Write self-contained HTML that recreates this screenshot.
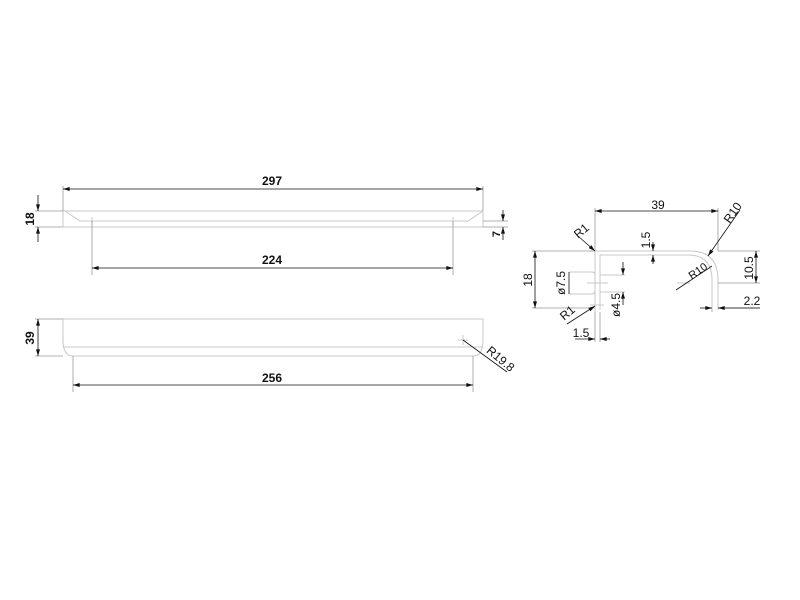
<!DOCTYPE html>
<html><head><style>html,body{margin:0;padding:0;background:#fff}svg{display:block}</style></head>
<body>
<svg width="800" height="600" viewBox="0 0 800 600" xmlns="http://www.w3.org/2000/svg" font-family="Liberation Sans, sans-serif">
<defs>
<marker id="a" viewBox="0 0 10 6" refX="10" refY="3" markerWidth="7" markerHeight="4" orient="auto-start-reverse" markerUnits="userSpaceOnUse"><path d="M0,0L10,3L0,6z" fill="#111"/></marker>
</defs>
<g fill="none" stroke="#c8c8c8" stroke-width="1">
<path d="M63,211H483M63,211V227M483,211V227M65,211L80,221H468L483,211M63,227H483"/>
<path d="M88,221H96M92,217V225M449,221H457M453,217V225"/>
<path d="M63,319H483V340Q483,356 473,356H73Q63,356 63,340Z"/>
<path d="M63,347H483"/>
<path d="M458,340H468M463,335V345"/>
<path d="M595,250V312M600,255V310M595,251H690Q718,251 718,280V283M600,255H688Q712,255 712,280V283"/>
<path d="M712,283V310M718,283V310"/>
<path d="M569,272H592Q595,272 595,276M569,294H592Q595,294 595,290M600,275H625M600,292H625M587,283H608"/>
<path d="M590,251H604M590,305H604M677,283H690"/>
</g>
<g stroke="#999" stroke-width="0.8" fill="none">
<path d="M63,186V211M483,186V211M35,211H63M35,227H63M483,221H508M483,227H508M92,221V275M453,221V275"/>
<path d="M35,319H63M35,356H63M73,356V392M473,356V392"/>
<path d="M595,208V250M718,208V251M532,251H595M532,308H595M718,251H760M718,283H760M712,310V312M718,308H760M595,312V342M600,312V342"/>
</g>
<g stroke="#111" stroke-width="0.8" fill="none">
<line x1="63" y1="189" x2="483" y2="189" marker-start="url(#a)" marker-end="url(#a)"/>
<line x1="92" y1="268" x2="453" y2="268" marker-start="url(#a)" marker-end="url(#a)"/>
<line x1="73" y1="385" x2="473" y2="385" marker-start="url(#a)" marker-end="url(#a)"/>
<line x1="38" y1="195" x2="38" y2="211" marker-end="url(#a)"/>
<line x1="38" y1="242" x2="38" y2="227" marker-end="url(#a)"/>
<line x1="38" y1="319" x2="38" y2="356" marker-start="url(#a)" marker-end="url(#a)"/>
<line x1="503" y1="210" x2="503" y2="221" marker-end="url(#a)"/>
<line x1="503" y1="240" x2="503" y2="227" marker-end="url(#a)"/>
<line x1="463" y1="340" x2="507" y2="372"/>
<line x1="595" y1="211" x2="718" y2="211" marker-start="url(#a)" marker-end="url(#a)"/>
<line x1="535" y1="251" x2="535" y2="308" marker-start="url(#a)" marker-end="url(#a)"/>
<line x1="569" y1="272" x2="569" y2="294"/>
<line x1="623" y1="262" x2="623" y2="275" marker-end="url(#a)"/>
<line x1="623" y1="305" x2="623" y2="292" marker-end="url(#a)"/>
<line x1="653" y1="242" x2="653" y2="251" marker-end="url(#a)"/>
<line x1="653" y1="264" x2="653" y2="255" marker-end="url(#a)"/>
<line x1="756" y1="251" x2="756" y2="283" marker-start="url(#a)" marker-end="url(#a)"/>
<line x1="700" y1="308" x2="712" y2="308" marker-end="url(#a)"/>
<line x1="760" y1="308" x2="718" y2="308" marker-end="url(#a)"/>
<line x1="575" y1="339" x2="595" y2="339" marker-end="url(#a)"/>
<line x1="610" y1="339" x2="600" y2="339" marker-end="url(#a)"/>
<line x1="740" y1="210" x2="708" y2="256" marker-end="url(#a)"/>
<line x1="676" y1="290" x2="712" y2="266"/>
<line x1="578" y1="236" x2="595" y2="251" marker-end="url(#a)"/>
<line x1="567" y1="324" x2="595" y2="306" marker-end="url(#a)"/>
</g>
<g fill="#111" font-size="12" font-weight="bold" text-anchor="middle">
<text x="272" y="185">297</text>
<text x="272" y="264">224</text>
<text x="272" y="382">256</text>
<text transform="translate(34,219) rotate(-90)">18</text>
<text transform="translate(34,338) rotate(-90)">39</text>
<text transform="translate(500,234) rotate(-90)" font-size="11">7</text>
</g>
<g fill="#111" font-size="12" text-anchor="middle">
<text transform="translate(498,362) rotate(40)">R19.8</text>
<text x="658" y="209">39</text>
<text transform="translate(532,280) rotate(-90)">18</text>
<text transform="translate(565,283) rotate(-90)">ø7.5</text>
<text transform="translate(620,305) rotate(-90)">ø4.5</text>
<text transform="translate(650,240) rotate(-90)">1.5</text>
<text transform="translate(753,268) rotate(-90)">10.5</text>
<text x="752" y="305">2.2</text>
<text x="581" y="337">1.5</text>
<text transform="translate(736,215) rotate(-55)">R10</text>
<text transform="translate(700,274) rotate(-35)" font-size="11">R10</text>
<text transform="translate(584,234) rotate(-40)">R1</text>
<text transform="translate(570,316) rotate(-40)">R1</text>
</g>
</svg>
</body></html>
